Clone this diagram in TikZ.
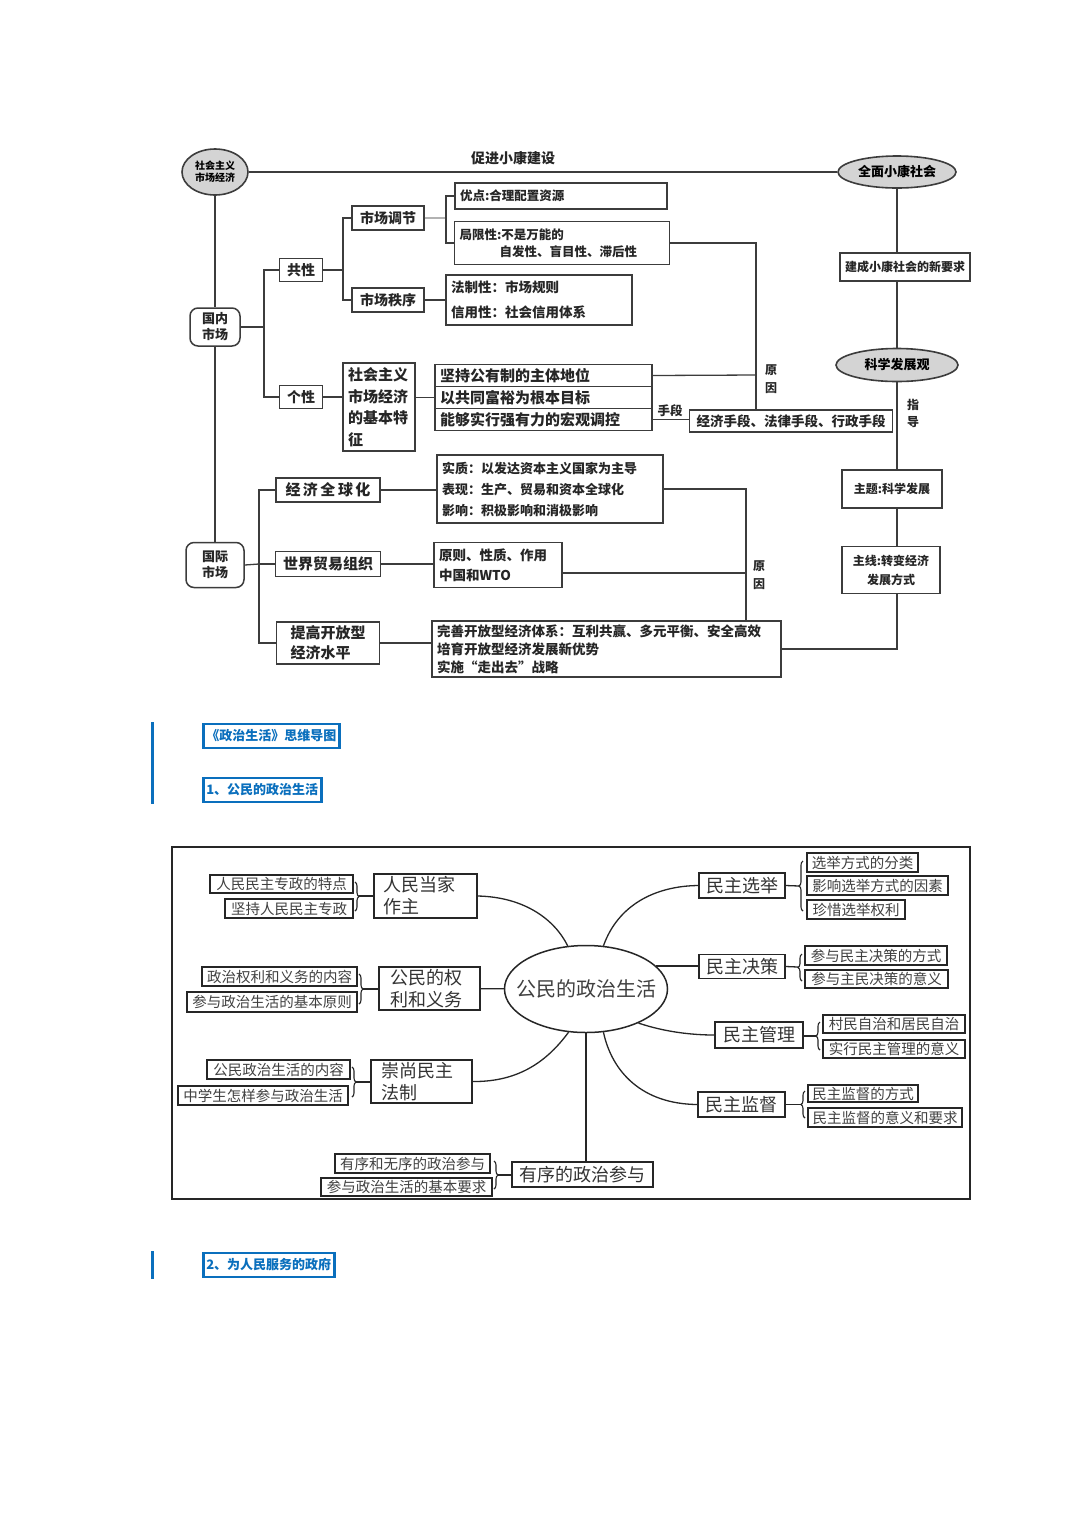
\documentclass[tikz,border=0pt]{standalone}
\usepackage{fontspec}
\newfontfamily\cjk{Noto Sans CJK SC}
\usetikzlibrary{shapes.geometric,decorations.pathreplacing,calc}
\definecolor{ln}{HTML}{3C3C3C}
\definecolor{blu}{HTML}{0A6FBD}
\definecolor{ellg}{HTML}{D4D4D4}
\newcommand\fsz[2]{\fontsize{#1}{#2}\selectfont}
\tikzset{
  tb/.style={draw=ln, line width=1.4pt, inner sep=0pt, font=\cjk\bfseries\fsz{14}{16}, text=black!85},
  tl/.style={tb, align=left, inner xsep=5pt},
  ell/.style={ellipse, draw=ln, line width=1.6pt, fill=ellg, inner sep=0pt},
  rb/.style={tb, rounded corners=8pt, line width=1.5pt, align=center, font=\cjk\bfseries\fsz{13}{16}},
  con/.style={draw=ln, line width=1.3pt},
  lab/.style={inner sep=0pt, font=\cjk\bfseries\fsz{13}{15}, text=black!85},
  mb/.style={draw=black!85, line width=1.5pt, inner sep=0pt, font=\cjk\fsz{18}{22}, text=black!80},
  ml/.style={mb, align=left},
  sb/.style={draw=black!85, line width=1.8pt, inner sep=0pt, font=\cjk\fsz{14.5}{15}, text=black!75},
  mc/.style={draw=black!85, line width=1.3pt},
  brc/.style={decorate, decoration={brace, amplitude=4pt}, draw=black!85, line width=1.1pt},
  hb/.style={draw=blu, line width=2.6pt, inner xsep=3pt, inner ysep=0pt, font=\cjk\bfseries\fsz{13}{15}, text=blu, anchor=west},
}
\begin{document}
\begin{tikzpicture}[x=1pt,y=-1pt]
\useasboundingbox (0,0) rectangle (1080,1527);
\fill[white] (0,0) rectangle (1080,1527);

% ================= top diagram =================
\node[ell, minimum width=66pt, minimum height=46pt, font=\cjk\bfseries\fsz{10}{12}, align=center] (e1) at (215,172) {社会主义\\市场经济};
\node[ell, minimum width=118pt, minimum height=32pt, font=\cjk\bfseries\fsz{13}{15}] (e2) at (897,172) {全面小康社会};
\node[lab, font=\cjk\bfseries\fsz{14}{16}] (l1) at (513,158) {促进小康建设};
\draw[con] (e1) -- (e2);

\node[tb, minimum width=130pt, minimum height=28pt, font=\cjk\bfseries\fsz{12}{14}] (jc) at (905,267) {建成小康社会的新要求};
\node[ell, minimum width=122pt, minimum height=33pt, font=\cjk\bfseries\fsz{13}{15}] (kx) at (897,365) {科学发展观};
\node[tb, minimum width=100pt, minimum height=38pt, font=\cjk\bfseries\fsz{12}{14}] (zt) at (892,489) {主题:科学发展};
\node[tb, minimum width=98pt, minimum height=47pt, font=\cjk\bfseries\fsz{12}{19}, align=center] (zx) at (891,570) {主线:转变经济\\发展方式};
\node[lab, align=center, font=\cjk\bfseries\fsz{12}{17}] (zd) at (913,413) {指\\导};

\draw[con] (e2) -- (e2 |- jc.north);
\draw[con] (e2 |- jc.south) -- (kx);
\draw[con] (kx) -- (kx |- zt.north);
\draw[con] (kx |- zt.south) -- (kx |- zx.north);

% domestic market
\node[rb, minimum width=50pt, minimum height=38pt] (gn) at (215,327) {国内\\市场};
\node[rb, minimum width=58pt, minimum height=45pt] (gj) at (215,565) {国际\\市场};
\draw[con] (e1) -- (gn);
\draw[con] (gn) -- (gj);

\node[tb, minimum width=43pt, minimum height=23pt] (gx) at (301,270) {共性};
\node[tb, minimum width=43pt, minimum height=23pt] (hx) at (301,397) {个性};
\coordinate (b1) at (264,327);
\draw[con] (gn.east) -- (b1);
\draw[con] (gx.west) -| (b1) |- (hx.west);

\node[tb, minimum width=72pt, minimum height=24pt] (tj) at (388,218) {市场调节};
\node[tb, minimum width=72pt, minimum height=24pt] (zx2) at (388,300) {市场秩序};
\coordinate (b2) at (343,270);
\draw[con] (gx.east) -- (b2);
\draw[con] (tj.west) -| (b2) |- (zx2.west);

\node[tl, minimum height=26pt, text width=202pt, font=\cjk\bfseries\fsz{12.5}{14}] (yd) at (561,196) {优点:合理配置资源};
\node[tl, minimum height=43pt, text width=205pt, font=\cjk\bfseries\fsz{12.5}{17}] (jx) at (562,243) {局限性:不是万能的\\\hspace*{40pt}自发性、盲目性、滞后性};
\coordinate (b3) at (446,218);
\draw[con, draw=gray!60] (tj.east) -- (b3);
\draw[con] (yd.west) -| (b3) |- (jx.west);

\node[tl, minimum height=50pt, text width=176pt, font=\cjk\bfseries\fsz{13.5}{25}] (fz) at (539,300) {法制性：市场规则\\信用性：社会信用体系};
\draw[con] (zx2.east) -- (fz.west);

\node[tl, minimum height=88pt, text width=62pt, font=\cjk\bfseries\fsz{15}{21.5}] (tz) at (379,407) {社会主义\\市场经济\\的基本特\\征};
\draw[con] (hx.east) -- (hx.east -| tz.west);

\node[tl, minimum height=22pt, text width=207pt, font=\cjk\bfseries\fsz{15}{16}] (r1) at (543.5,375.5) {坚持公有制的主体地位};
\node[tl, minimum height=22pt, text width=207pt, font=\cjk\bfseries\fsz{15}{16}] (r2) at (543.5,397.5) {以共同富裕为根本目标};
\node[tl, minimum height=22pt, text width=207pt, font=\cjk\bfseries\fsz{15}{16}] (r3) at (543.5,419.5) {能够实行强有力的宏观调控};
\draw[con] (tz.east |- r2) -- (r2.west);

\node[tb, minimum width=203pt, minimum height=22pt, font=\cjk\bfseries\fsz{13.5}{15}] (jd) at (791,421) {经济手段、法律手段、行政手段};
\coordinate (b4) at (756,375);
\draw[con] (r1.east) -- (b4);
\draw[con] (jx.east) -| (jd.north -| b4);
\draw[con] (r3.east) -- (r3.east -| jd.west);
\node[lab, align=center, font=\cjk\bfseries\fsz{12}{18}] (yy1) at (771,379) {原\\因};
\node[lab, font=\cjk\bfseries\fsz{12.5}{14}] (sd) at (670,411) {手段};

% international market
\node[tb, minimum width=104pt, minimum height=24pt, font=\cjk\bfseries\fsz{15}{16}] (qq) at (328,490) {经\,济\,全\,球\,化};
\node[tb, minimum width=105pt, minimum height=25pt, font=\cjk\bfseries\fsz{15}{16}] (wt) at (328,564) {世界贸易组织};
\node[tb, minimum width=103pt, minimum height=42pt, align=left, font=\cjk\bfseries\fsz{15}{20}] (tg) at (328,643) {提高开放型\\经济水平};
\coordinate (b5) at (259,564);
\draw[con] (gj.east) -- (b5);
\draw[con] (qq.west) -| (b5) |- (tg.west);
\draw[con] (wt.west) -- (b5);

\node[tl, minimum height=68pt, text width=216pt, font=\cjk\bfseries\fsz{13}{21}] (sz) at (550,489) {实质：以发达资本主义国家为主导\\表现：生产、贸易和资本全球化\\影响：积极影响和消极影响};
\node[tl, minimum height=45pt, text width=118pt, font=\cjk\bfseries\fsz{13.5}{20}] (yz) at (498,565) {原则、性质、作用\\中国和WTO};
\node[tl, minimum height=56pt, text width=339pt, font=\cjk\bfseries\fsz{13.5}{18}] (ws) at (606.5,649) {完善开放型经济体系：互利共赢、多元平衡、安全高效\\培育开放型经济发展新优势\\实施“走出去”战略};
\draw[con] (qq.east) -- (qq.east -| sz.west);
\draw[con] (wt.east) -- (wt.east -| yz.west);
\draw[con] (tg.east) -- (tg.east -| ws.west);
\coordinate (b6) at (746,573);
\draw[con] (sz.east) -| (ws.north -| b6);
\draw[con] ([yshift=-8pt]yz.east) -- (b6);
\node[lab, align=center, font=\cjk\bfseries\fsz{12}{18}] (yy2) at (759,575) {原\\因};
\draw[con] (kx |- zx.south) |- (ws.east);

% ================= blue headings =================
\fill[blu] (150.5,722) rectangle (154,804);
\node[hb, minimum height=24pt] (h1) at (202,736) {《政治生活》思维导图};
\node[hb, minimum height=24pt] (h2) at (202,790) {1、公民的政治生活};
\fill[blu] (150.5,1251) rectangle (154,1279);
\node[hb, minimum height=24pt] (h3) at (202,1265) {2、为人民服务的政府};

% ================= mind map =================
\node[draw=black!85, line width=2pt, minimum width=798pt, minimum height=352pt, inner sep=0pt] (fr) at (571,1023) {};
\node[ellipse, draw=black!85, line width=1.5pt, minimum width=163pt, minimum height=87pt, inner xsep=-14pt, inner ysep=0pt, font=\cjk\fsz{20}{22}, text=black!75] (c) at (586,989) {公民的政治生活};

\node[ml, minimum height=44pt, text width=85pt, inner xsep=9pt] (rm) at (425.5,896) {人民当家\\作主};
\node[ml, minimum height=43pt, text width=79pt, inner xsep=11pt] (qy) at (429.5,988.5) {公民的权\\利和义务};
\node[ml, minimum height=43pt, text width=81pt, inner xsep=10pt] (cs) at (421.5,1081.5) {崇尚民主\\法制};
\node[mb, minimum width=86pt, minimum height=25pt] (xj) at (742,885.5) {民主选举};
\node[mb, minimum width=86pt, minimum height=24pt] (jc2) at (742,966.5) {民主决策};
\node[mb, minimum width=88pt, minimum height=26pt] (gl) at (759,1035) {民主管理};
\node[mb, minimum width=87pt, minimum height=25pt] (jd2) at (741.5,1104.5) {民主监督};
\node[mb, minimum width=141pt, minimum height=25pt] (yx) at (582.5,1174.5) {有序的政治参与};

% connectors from centre
\draw[mc] (qy) -- (c);
\draw[mc] (c) -- (c |- yx.north);
\draw[mc] (c.18) -- (c.18 -| jc2.west);
\draw[mc] (rm.east) .. controls (525,897) and (555,920) .. (c.113);
\draw[mc] (c.68) .. controls (618,905) and (655,886) .. (xj.west);
\draw[mc] (c.-33) .. controls (665,1032) and (692,1035) .. (gl.west);
\draw[mc] (c.-68) .. controls (612,1072) and (642,1104) .. (jd2.west);
\draw[mc] (cs.east) .. controls (520,1082) and (548,1060) .. (c.-112);

% sub boxes left
\node[sb, minimum width=143pt, minimum height=18pt] (a1) at (281.5,884) {人民民主专政的特点};
\node[sb, minimum width=128pt, minimum height=19pt] (a2) at (289,908.5) {坚持人民民主专政};
\node[sb, minimum width=155pt, minimum height=19pt] (p1) at (279.5,976.5) {政治权利和义务的内容};
\node[sb, minimum width=170pt, minimum height=20pt] (p2) at (272,1002) {参与政治生活的基本原则};
\node[sb, minimum width=143pt, minimum height=19pt] (q1) at (278.5,1069.5) {公民政治生活的内容};
\node[sb, minimum width=170pt, minimum height=19pt] (q2) at (263,1095.5) {中学生怎样参与政治生活};
\node[sb, minimum width=155pt, minimum height=19pt] (d1) at (412.5,1163.5) {有序和无序的政治参与};
\node[sb, minimum width=171pt, minimum height=18pt] (d2) at (406.5,1187) {参与政治生活的基本要求};
% sub boxes right
\node[sb, minimum width=111pt, minimum height=19pt] (x1) at (862.5,862.5) {选举方式的分类};
\node[sb, minimum width=141pt, minimum height=19pt] (x2) at (877.5,885.5) {影响选举方式的因素};
\node[sb, minimum width=98pt, minimum height=19pt] (x3) at (856,909.5) {珍惜选举权利};
\node[sb, minimum width=142pt, minimum height=19pt] (f1) at (876,955.5) {参与民主决策的方式};
\node[sb, minimum width=143pt, minimum height=18pt] (f2) at (876.5,979) {参与主民决策的意义};
\node[sb, minimum width=142pt, minimum height=18pt] (g1) at (894,1024) {村民自治和居民自治};
\node[sb, minimum width=142pt, minimum height=18pt] (g2) at (894,1049) {实行民主管理的意义};
\node[sb, minimum width=110pt, minimum height=17pt] (k1) at (863,1093.5) {民主监督的方式};
\node[sb, minimum width=154pt, minimum height=19pt] (k2) at (885,1117.5) {民主监督的意义和要求};

% braces (left side, tip east)
\draw[brc] (355,882) -- (355,911);
\coordinate (t1) at (359,896);
\draw[mc] (t1) -- (t1 -| rm.west);
\draw[brc] (359,974) -- (359,1004);
\coordinate (t2) at (363,989);
\draw[mc] (t2) -- (t2 -| qy.west);
\draw[brc] (352,1067) -- (352,1097);
\coordinate (t3) at (356,1082);
\draw[mc] (t3) -- (t3 -| cs.west);
\draw[brc] (494,1161) -- (494,1189);
\coordinate (t4) at (498,1175);
\draw[mc] (t4) -- (t4 -| yx.west);
% braces (right side, tip west)
\draw[brc] (803,911) -- (803,861);
\coordinate (t5) at (799,886);
\draw[mc] (xj.east) -- (t5);
\draw[brc] (802,981) -- (802,954);
\coordinate (t6) at (798,967);
\draw[mc] (jc2.east) -- (t6);
\draw[brc] (820,1050) -- (820,1022);
\coordinate (t7) at (816,1036);
\draw[mc] (gl.east |- t7) -- (t7);
\draw[brc] (805,1118) -- (805,1091);
\coordinate (t8) at (801,1104.5);
\draw[mc] (jd2.east) -- (t8);
\end{tikzpicture}
\end{document}
